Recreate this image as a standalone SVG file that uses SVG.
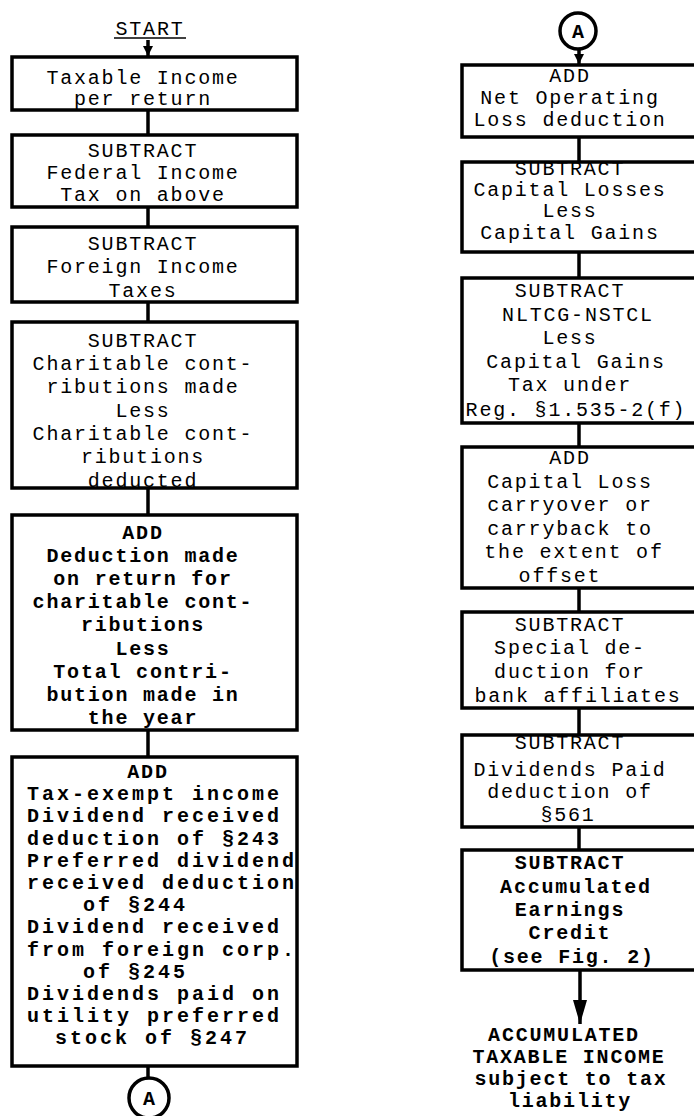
<svg xmlns="http://www.w3.org/2000/svg" width="694" height="1116" viewBox="0 0 694 1116">
<style>
text{font-family:"Liberation Mono","DejaVu Sans Mono",monospace;font-size:20px;letter-spacing:1.8px;fill:#000;text-anchor:middle}
.b{font-weight:bold}
.w{letter-spacing:3px;text-anchor:start}
.box{fill:none;stroke:#000;stroke-width:3.5}
.con{stroke:#000;stroke-width:3.5;fill:none}
.circ{fill:#fff;stroke:#000;stroke-width:3.5}
</style>
<defs>
<marker id="ah" markerUnits="userSpaceOnUse" markerWidth="10" markerHeight="10" refX="10" refY="5" orient="auto" viewBox="0 0 10 10">
<path d="M0,0 L10,5 L0,10 Z" fill="#000"/>
</marker>
<marker id="ah2" markerUnits="userSpaceOnUse" markerWidth="24" markerHeight="14" refX="24" refY="7" orient="auto" viewBox="0 0 24 14">
<path d="M0,0 L24,7 L0,14 Z" fill="#000"/>
</marker>
</defs>
<rect width="694" height="1116" fill="#fff"/>

<g id="connectors">
<line class="con" x1="148" y1="40" x2="148" y2="56" marker-end="url(#ah)"/>
<line class="con" x1="148" y1="110" x2="148" y2="135"/>
<line class="con" x1="148" y1="207" x2="148" y2="227"/>
<line class="con" x1="148" y1="302" x2="148" y2="322"/>
<line class="con" x1="148" y1="488" x2="148" y2="515"/>
<line class="con" x1="148" y1="730" x2="148" y2="757"/>
<line class="con" x1="148" y1="1066" x2="148" y2="1078"/>
<line class="con" x1="579" y1="49" x2="579" y2="64" marker-end="url(#ah)"/>
<line class="con" x1="579" y1="137" x2="579" y2="162"/>
<line class="con" x1="579" y1="252" x2="579" y2="278"/>
<line class="con" x1="579" y1="423" x2="579" y2="447"/>
<line class="con" x1="579" y1="588" x2="579" y2="612"/>
<line class="con" x1="579" y1="708" x2="579" y2="735"/>
<line class="con" x1="579" y1="827" x2="579" y2="850"/>
<line class="con" x1="580" y1="970" x2="580" y2="1024" stroke-width="5" marker-end="url(#ah2)"/>
</g>

<g id="start">
<text x="150" y="35">START</text>
<line x1="114" y1="38" x2="186" y2="38" stroke="#000" stroke-width="1.5"/>
</g>

<g id="n1">
<text x="143" y="84">Taxable Income</text>
<text x="143" y="105">per return</text>
<rect class="box" x="12" y="57" width="285" height="53"/>
</g>
<g id="n2">
<text x="143" y="157">SUBTRACT</text>
<text x="143" y="179">Federal Income</text>
<text x="143" y="201">Tax on above</text>
<rect class="box" x="12" y="135" width="285" height="72"/>
</g>
<g id="n3">
<text x="143" y="250">SUBTRACT</text>
<text x="143" y="273">Foreign Income</text>
<text x="143" y="297">Taxes</text>
<rect class="box" x="12" y="227" width="285" height="75"/>
</g>
<g id="n4">
<text x="143" y="347">SUBTRACT</text>
<text x="143" y="370">Charitable cont-</text>
<text x="143" y="393">ributions made</text>
<text x="143" y="417">Less</text>
<text x="143" y="440">Charitable cont-</text>
<text x="143" y="463">ributions</text>
<text x="143" y="487">deducted</text>
<rect class="box" x="12" y="322" width="285" height="166"/>
</g>
<g id="n5">
<text class="b" x="143" y="539">ADD</text>
<text class="b" x="143" y="562">Deduction made</text>
<text class="b" x="143" y="585">on return for</text>
<text class="b" x="143" y="608">charitable cont-</text>
<text class="b" x="143" y="631">ributions</text>
<text class="b" x="143" y="655">Less</text>
<text class="b" x="143" y="678">Total contri-</text>
<text class="b" x="143" y="701">bution made in</text>
<text class="b" x="143" y="724">the year</text>
<rect class="box" x="12" y="515" width="285" height="215"/>
</g>
<g id="n6">
<text class="b" x="148" y="778">ADD</text>
<text class="b w" x="27" y="800">Tax-exempt income</text>
<text class="b w" x="27" y="822">Dividend received</text>
<text class="b w" x="27" y="845">deduction of §243</text>
<text class="b w" x="27" y="867">Preferred dividend</text>
<text class="b w" x="27" y="889">received deduction</text>
<text class="b w" x="83" y="911">of §244</text>
<text class="b w" x="27" y="933">Dividend received</text>
<text class="b w" x="27" y="956">from foreign corp.</text>
<text class="b w" x="83" y="978">of §245</text>
<text class="b w" x="27" y="1000">Dividends paid on</text>
<text class="b w" x="27" y="1022">utility preferred</text>
<text class="b w" x="55" y="1044">stock of §247</text>
<rect class="box" x="12" y="757" width="285" height="309"/>
</g>
<g id="connA1">
<circle class="circ" cx="149" cy="1098" r="20"/>
<text class="b" x="150" y="1105">A</text>
</g>

<g id="connA2">
<circle class="circ" cx="578" cy="31" r="18"/>
<text class="b" x="579" y="38">A</text>
</g>
<g id="r1">
<text x="570" y="82">ADD</text>
<text x="570" y="104">Net Operating</text>
<text x="570" y="126">Loss deduction</text>
<rect class="box" x="462" y="65" width="240" height="72"/>
</g>
<g id="r2">
<text x="570" y="175">SUBTRACT</text>
<text x="570" y="196">Capital Losses</text>
<text x="570" y="217">Less</text>
<text x="570" y="239">Capital Gains</text>
<rect class="box" x="462" y="162" width="240" height="90"/>
</g>
<g id="r3">
<text x="570" y="297">SUBTRACT</text>
<text x="578" y="321">NLTCG-NSTCL</text>
<text x="570" y="344">Less</text>
<text x="576" y="368">Capital Gains</text>
<text x="570" y="391">Tax under</text>
<text x="576" y="416">Reg. §1.535-2(f)</text>
<rect class="box" x="462" y="278" width="240" height="145"/>
</g>
<g id="r4">
<text x="570" y="464">ADD</text>
<text x="570" y="488">Capital Loss</text>
<text x="570" y="511">carryover or</text>
<text x="570" y="535">carryback to</text>
<text x="574" y="558">the extent of</text>
<text x="560" y="582">offset</text>
<rect class="box" x="462" y="447" width="240" height="141"/>
</g>
<g id="r5">
<text x="570" y="631">SUBTRACT</text>
<text x="570" y="654">Special de-</text>
<text x="570" y="678">duction for</text>
<text x="578" y="702">bank affiliates</text>
<rect class="box" x="462" y="612" width="240" height="96"/>
</g>
<g id="r6">
<text x="570" y="749">SUBTRACT</text>
<text x="570" y="776">Dividends Paid</text>
<text x="570" y="798">deduction of</text>
<text x="568" y="821">§561</text>
<rect class="box" x="462" y="735" width="240" height="92"/>
</g>
<g id="r7">
<text class="b" x="570" y="869">SUBTRACT</text>
<text class="b" x="576" y="893">Accumulated</text>
<text class="b" x="570" y="916">Earnings</text>
<text class="b" x="570" y="939">Credit</text>
<text class="b" x="572" y="963">(see Fig. 2)</text>
<rect class="box" x="462" y="850" width="240" height="120"/>
</g>
<g id="result">
<text class="b" x="564" y="1041">ACCUMULATED</text>
<text class="b" x="569" y="1063">TAXABLE INCOME</text>
<text class="b" x="571" y="1085">subject to tax</text>
<text class="b" x="570" y="1107">liability</text>
</g>
</svg>
